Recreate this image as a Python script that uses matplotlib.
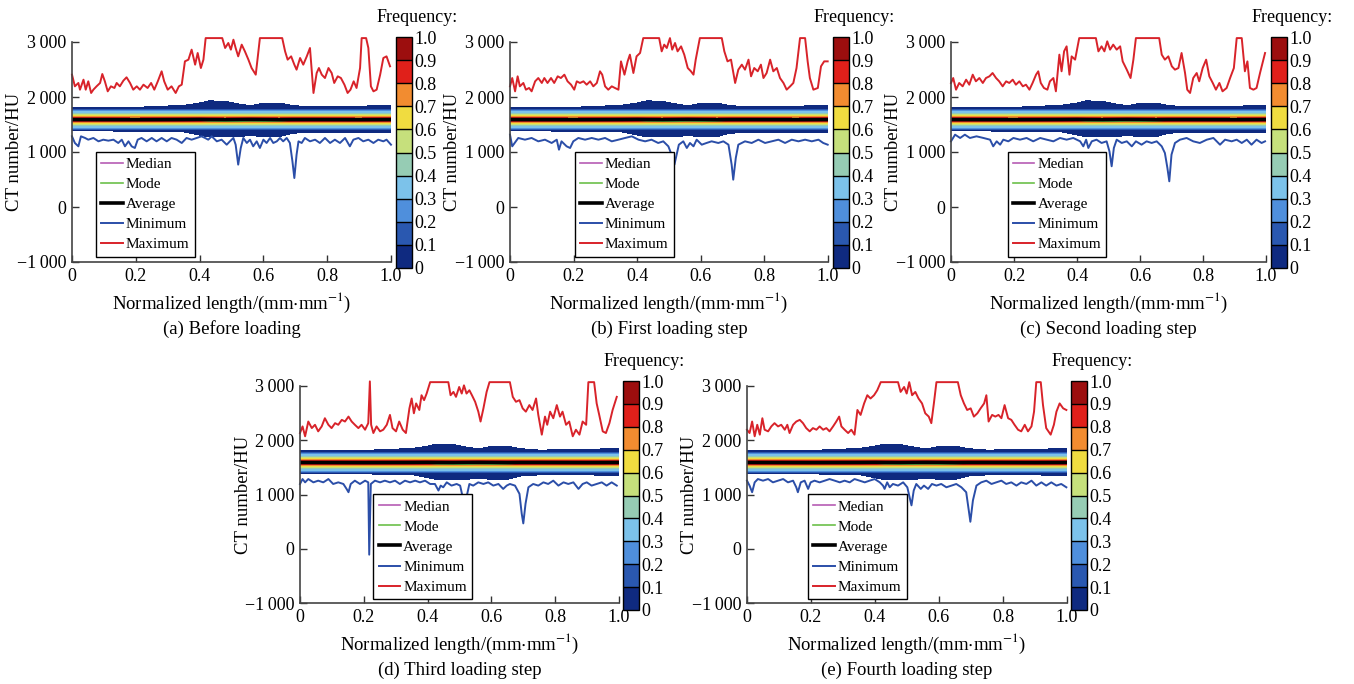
import matplotlib.pyplot as plt
from matplotlib.colors import ListedColormap, BoundaryNorm
import numpy as np

plt.rcParams['font.family'] = 'Liberation Serif'
plt.rcParams['mathtext.fontset'] = 'stix'

# ---------------- data ----------------
# max / min CT number along the normalized length, (x, HU) pairs
max_a = [(0.000, 2406), (0.009, 2194), (0.020, 2255), (0.025, 2133), (0.036, 2315), (0.043, 2133), (0.051, 2285),
         (0.060, 2073), (0.067, 2133), (0.077, 2194), (0.088, 2255), (0.095, 2418), (0.103, 2285), (0.112, 2103),
         (0.122, 2194), (0.133, 2164), (0.140, 2255), (0.150, 2194), (0.161, 2297), (0.171, 2358), (0.182, 2255),
         (0.192, 2133), (0.203, 2194), (0.213, 2133), (0.224, 2224), (0.237, 2164), (0.248, 2255), (0.258, 2133),
         (0.269, 2285), (0.281, 2467), (0.289, 2285), (0.300, 2133), (0.312, 2194), (0.325, 2073), (0.335, 2194),
         (0.344, 2224), (0.354, 2648), (0.365, 2679), (0.375, 2861), (0.386, 2588), (0.394, 2800), (0.404, 2527),
         (0.412, 2679), (0.419, 3071), (0.471, 3071), (0.480, 2891), (0.490, 2982), (0.498, 2861), (0.506, 3042),
         (0.513, 2891), (0.521, 2739), (0.532, 2952), (0.542, 2830), (0.553, 2679), (0.563, 2527), (0.576, 2406),
         (0.582, 2709), (0.589, 3071), (0.659, 3071), (0.668, 2830), (0.676, 2679), (0.687, 2739), (0.697, 2588),
         (0.704, 2497), (0.715, 2709), (0.725, 2588), (0.736, 2739), (0.746, 2891), (0.757, 2073), (0.767, 2436),
         (0.774, 2527), (0.783, 2406), (0.793, 2345), (0.804, 2527), (0.814, 2436), (0.822, 2255), (0.833, 2376),
         (0.843, 2345), (0.854, 2224), (0.864, 2073), (0.873, 2133), (0.883, 2285), (0.892, 2164), (0.903, 2527),
         (0.908, 3071), (0.922, 3071), (0.929, 2891), (0.937, 2194), (0.945, 2103), (0.955, 2133), (0.966, 2406),
         (0.976, 2709), (0.986, 2739), (0.997, 2558)]
min_a = [(0.000, 1285), (0.009, 1164), (0.020, 1103), (0.028, 1285), (0.041, 1255), (0.051, 1224), (0.067, 1255),
         (0.083, 1194), (0.098, 1224), (0.114, 1206), (0.130, 1224), (0.145, 1164), (0.156, 1224), (0.166, 1103),
         (0.177, 1194), (0.187, 1103), (0.197, 1073), (0.206, 1224), (0.218, 1255), (0.234, 1194), (0.250, 1255),
         (0.265, 1194), (0.281, 1255), (0.297, 1194), (0.312, 1255), (0.328, 1224), (0.344, 1164), (0.359, 1255),
         (0.375, 1224), (0.391, 1255), (0.406, 1285), (0.417, 1255), (0.427, 1224), (0.438, 1285), (0.454, 1194),
         (0.469, 1224), (0.485, 1133), (0.495, 1194), (0.506, 1255), (0.513, 1133), (0.521, 770), (0.529, 1073),
         (0.537, 1255), (0.548, 1164), (0.558, 1224), (0.568, 1103), (0.579, 1194), (0.589, 1073), (0.600, 1224),
         (0.610, 1164), (0.621, 1255), (0.631, 1164), (0.642, 1194), (0.652, 1255), (0.662, 1194), (0.673, 1255),
         (0.683, 1164), (0.691, 830), (0.697, 527), (0.704, 952), (0.710, 1194), (0.720, 1164), (0.730, 1255),
         (0.746, 1194), (0.762, 1224), (0.777, 1164), (0.793, 1255), (0.809, 1164), (0.824, 1224), (0.840, 1164),
         (0.856, 1255), (0.871, 1103), (0.882, 1224), (0.898, 1255), (0.913, 1194), (0.929, 1224), (0.945, 1164),
         (0.960, 1224), (0.976, 1194), (0.986, 1224), (1.000, 1133)]

max_b = [(0.000, 2194), (0.007, 2345), (0.016, 2103), (0.024, 2376), (0.031, 2194), (0.042, 2255), (0.050, 2133),
         (0.060, 2164), (0.068, 2103), (0.079, 2285), (0.089, 2345), (0.100, 2255), (0.108, 2345), (0.118, 2255),
         (0.129, 2345), (0.139, 2255), (0.150, 2376), (0.160, 2345), (0.171, 2406), (0.181, 2285), (0.192, 2224),
         (0.202, 2133), (0.210, 2285), (0.220, 2255), (0.231, 2285), (0.241, 2224), (0.252, 2285), (0.262, 2194),
         (0.273, 2255), (0.283, 2467), (0.290, 2406), (0.299, 2194), (0.309, 2133), (0.320, 2194), (0.330, 2164),
         (0.341, 2133), (0.349, 2648), (0.360, 2406), (0.370, 2648), (0.377, 2770), (0.388, 2436), (0.398, 2739),
         (0.409, 2800), (0.419, 3071), (0.469, 3071), (0.477, 2830), (0.485, 2952), (0.493, 2891), (0.503, 3071),
         (0.510, 2861), (0.519, 2982), (0.527, 2830), (0.538, 2921), (0.548, 2770), (0.559, 2527), (0.569, 2467),
         (0.577, 2406), (0.584, 2679), (0.597, 3071), (0.666, 3071), (0.674, 2830), (0.684, 2648), (0.695, 2679),
         (0.708, 2255), (0.718, 2497), (0.729, 2588), (0.739, 2497), (0.750, 2679), (0.758, 2376), (0.768, 2527),
         (0.779, 2467), (0.789, 2588), (0.797, 2345), (0.807, 2436), (0.818, 2679), (0.828, 2467), (0.839, 2527),
         (0.849, 2345), (0.860, 2255), (0.870, 2133), (0.881, 2194), (0.891, 2255), (0.901, 2527), (0.912, 3071),
         (0.928, 3071), (0.936, 2648), (0.943, 2345), (0.954, 2133), (0.968, 2164), (0.978, 2558), (0.988, 2648),
         (0.999, 2648)]
min_b = [(0.000, 1315), (0.007, 1103), (0.026, 1255), (0.047, 1224), (0.068, 1255), (0.089, 1194), (0.110, 1224),
         (0.131, 1164), (0.147, 1224), (0.154, 1042), (0.162, 1194), (0.178, 1103), (0.189, 1073), (0.199, 1194),
         (0.215, 1255), (0.236, 1224), (0.257, 1255), (0.278, 1224), (0.299, 1255), (0.320, 1194), (0.341, 1224),
         (0.362, 1255), (0.383, 1285), (0.404, 1224), (0.425, 1194), (0.445, 1224), (0.466, 1164), (0.482, 1194),
         (0.498, 1103), (0.508, 952), (0.517, 770), (0.524, 952), (0.531, 1133), (0.545, 1194), (0.556, 1073),
         (0.566, 1164), (0.577, 1103), (0.587, 1224), (0.603, 1133), (0.618, 1164), (0.634, 1194), (0.655, 1164),
         (0.671, 1194), (0.687, 1133), (0.697, 770), (0.702, 497), (0.710, 891), (0.718, 1133), (0.739, 1194),
         (0.760, 1164), (0.781, 1224), (0.802, 1164), (0.823, 1194), (0.844, 1224), (0.865, 1164), (0.886, 1224),
         (0.907, 1194), (0.928, 1224), (0.949, 1194), (0.970, 1224), (0.985, 1164), (0.999, 1133)]

max_c = [(0.000, 2255), (0.007, 2345), (0.016, 2133), (0.026, 2255), (0.037, 2194), (0.048, 2315), (0.058, 2224),
         (0.069, 2406), (0.079, 2285), (0.090, 2345), (0.101, 2255), (0.111, 2345), (0.122, 2376), (0.132, 2436),
         (0.143, 2345), (0.153, 2285), (0.164, 2194), (0.175, 2285), (0.185, 2255), (0.196, 2315), (0.206, 2224),
         (0.217, 2285), (0.228, 2194), (0.238, 2224), (0.249, 2133), (0.259, 2255), (0.270, 2406), (0.277, 2467),
         (0.285, 2255), (0.295, 2164), (0.306, 2133), (0.314, 2285), (0.325, 2345), (0.333, 2103), (0.344, 2770),
         (0.351, 2467), (0.359, 2830), (0.367, 2921), (0.376, 2406), (0.383, 2739), (0.394, 2679), (0.407, 3071),
         (0.460, 3071), (0.468, 2830), (0.478, 2921), (0.487, 2830), (0.496, 3012), (0.505, 2861), (0.515, 2952),
         (0.526, 2861), (0.537, 2921), (0.545, 2648), (0.558, 2497), (0.570, 2345), (0.579, 2679), (0.587, 3071),
         (0.661, 3071), (0.669, 2770), (0.679, 2679), (0.690, 2739), (0.701, 2558), (0.711, 2497), (0.722, 2527),
         (0.732, 2800), (0.743, 2436), (0.750, 2133), (0.759, 2073), (0.769, 2345), (0.780, 2436), (0.788, 2285),
         (0.799, 2527), (0.810, 2679), (0.820, 2376), (0.831, 2255), (0.841, 2133), (0.852, 2255), (0.862, 2103),
         (0.875, 2164), (0.886, 2345), (0.898, 2527), (0.907, 3071), (0.923, 3071), (0.933, 2467), (0.941, 2648),
         (0.949, 2164), (0.960, 2133), (0.970, 2164), (0.981, 2436), (0.997, 2800)]
min_c = [(0.000, 1194), (0.013, 1315), (0.029, 1255), (0.044, 1315), (0.060, 1255), (0.081, 1285), (0.103, 1255),
         (0.124, 1224), (0.134, 1103), (0.145, 1194), (0.156, 1133), (0.166, 1224), (0.182, 1194), (0.198, 1255),
         (0.219, 1224), (0.240, 1255), (0.261, 1194), (0.283, 1255), (0.304, 1224), (0.325, 1194), (0.346, 1255),
         (0.367, 1224), (0.388, 1255), (0.410, 1194), (0.420, 1103), (0.429, 1224), (0.436, 1073), (0.447, 1194),
         (0.462, 1224), (0.478, 1164), (0.494, 1194), (0.503, 1012), (0.510, 740), (0.517, 1073), (0.526, 1224),
         (0.542, 1164), (0.558, 1194), (0.574, 1103), (0.587, 1194), (0.605, 1133), (0.621, 1194), (0.637, 1164),
         (0.653, 1194), (0.669, 1103), (0.679, 982), (0.687, 709), (0.693, 467), (0.700, 952), (0.711, 1164),
         (0.727, 1224), (0.748, 1255), (0.769, 1194), (0.790, 1164), (0.812, 1224), (0.833, 1255), (0.854, 1133),
         (0.870, 1224), (0.891, 1194), (0.907, 1224), (0.923, 1164), (0.939, 1224), (0.954, 1133), (0.970, 1224),
         (0.986, 1164), (0.997, 1194)]

max_d = [(0.000, 2133), (0.008, 2255), (0.016, 2073), (0.026, 2345), (0.037, 2224), (0.047, 2285), (0.057, 2164),
         (0.068, 2255), (0.078, 2406), (0.089, 2285), (0.099, 2224), (0.110, 2315), (0.120, 2285), (0.131, 2376),
         (0.141, 2345), (0.152, 2436), (0.162, 2345), (0.172, 2285), (0.183, 2224), (0.193, 2285), (0.204, 2194),
         (0.214, 2315), (0.219, 3085), (0.223, 2285), (0.230, 2133), (0.240, 2255), (0.251, 2164), (0.261, 2194),
         (0.272, 2285), (0.282, 2467), (0.290, 2224), (0.301, 2164), (0.311, 2345), (0.322, 2194), (0.332, 2133),
         (0.343, 2588), (0.350, 2770), (0.357, 2497), (0.364, 2679), (0.374, 2558), (0.381, 2830), (0.389, 2739),
         (0.397, 2861), (0.408, 3071), (0.465, 3071), (0.472, 2830), (0.481, 2891), (0.489, 2800), (0.499, 2982),
         (0.507, 2861), (0.514, 3012), (0.522, 2861), (0.531, 2921), (0.539, 2830), (0.549, 2709), (0.559, 2527),
         (0.566, 2345), (0.575, 2588), (0.585, 2891), (0.594, 3071), (0.658, 3071), (0.667, 2800), (0.677, 2709),
         (0.688, 2739), (0.698, 2588), (0.708, 2527), (0.719, 2648), (0.729, 2558), (0.740, 2770), (0.747, 2467),
         (0.758, 2103), (0.768, 2436), (0.775, 2285), (0.784, 2527), (0.794, 2406), (0.805, 2648), (0.815, 2436),
         (0.823, 2527), (0.834, 2285), (0.844, 2345), (0.855, 2073), (0.865, 2194), (0.876, 2103), (0.886, 2345),
         (0.897, 2285), (0.904, 3071), (0.922, 3071), (0.930, 2679), (0.938, 2467), (0.949, 2164), (0.959, 2133),
         (0.970, 2315), (0.980, 2558), (0.993, 2800)]
min_d = [(0.000, 1194), (0.008, 1285), (0.016, 1224), (0.026, 1285), (0.042, 1224), (0.057, 1255), (0.073, 1224),
         (0.089, 1285), (0.104, 1194), (0.120, 1224), (0.136, 1194), (0.146, 1103), (0.152, 1042), (0.159, 1194),
         (0.172, 1255), (0.188, 1194), (0.204, 1255), (0.214, 1224), (0.217, -109), (0.222, 1194), (0.235, 1255),
         (0.251, 1224), (0.266, 1255), (0.282, 1224), (0.298, 1255), (0.313, 1194), (0.329, 1255), (0.345, 1224),
         (0.361, 1255), (0.376, 1224), (0.392, 1255), (0.408, 1194), (0.423, 1194), (0.434, 1073), (0.441, 1164),
         (0.449, 1133), (0.460, 1224), (0.475, 1164), (0.491, 1194), (0.502, 1164), (0.510, 952), (0.517, 709),
         (0.522, 952), (0.531, 1194), (0.543, 1164), (0.559, 1224), (0.575, 1194), (0.590, 1224), (0.606, 1164),
         (0.622, 1194), (0.637, 1103), (0.648, 1164), (0.658, 1194), (0.674, 1164), (0.688, 1012), (0.695, 649),
         (0.700, 467), (0.707, 830), (0.716, 1133), (0.731, 1194), (0.747, 1164), (0.763, 1224), (0.778, 1194),
         (0.794, 1255), (0.810, 1164), (0.826, 1224), (0.841, 1194), (0.857, 1224), (0.873, 1103), (0.886, 1194),
         (0.899, 1224), (0.914, 1164), (0.930, 1194), (0.946, 1224), (0.961, 1164), (0.977, 1224), (0.993, 1164)]

max_e = [(0.000, 2194), (0.008, 2133), (0.016, 2345), (0.024, 2073), (0.032, 2285), (0.040, 2103), (0.048, 2406),
         (0.055, 2194), (0.066, 2164), (0.076, 2255), (0.086, 2315), (0.097, 2255), (0.107, 2285), (0.118, 2194),
         (0.126, 2285), (0.133, 2133), (0.144, 2285), (0.154, 2345), (0.165, 2376), (0.175, 2315), (0.185, 2224),
         (0.196, 2164), (0.206, 2224), (0.217, 2194), (0.227, 2255), (0.238, 2194), (0.248, 2224), (0.258, 2164),
         (0.269, 2255), (0.279, 2345), (0.288, 2436), (0.295, 2255), (0.305, 2194), (0.316, 2133), (0.326, 2194),
         (0.336, 2103), (0.345, 2558), (0.355, 2467), (0.366, 2679), (0.376, 2830), (0.386, 2770), (0.397, 2830),
         (0.407, 2921), (0.418, 3071), (0.472, 3071), (0.480, 2891), (0.491, 2982), (0.499, 2861), (0.507, 3071),
         (0.516, 2830), (0.526, 2891), (0.536, 2770), (0.547, 2679), (0.557, 2497), (0.568, 2436), (0.576, 2315),
         (0.584, 2679), (0.592, 3071), (0.659, 3071), (0.668, 2830), (0.678, 2679), (0.688, 2558), (0.699, 2588),
         (0.709, 2436), (0.720, 2497), (0.730, 2588), (0.741, 2679), (0.748, 2830), (0.755, 2345), (0.766, 2467),
         (0.776, 2436), (0.786, 2467), (0.795, 2406), (0.805, 2648), (0.816, 2406), (0.826, 2376), (0.836, 2285),
         (0.847, 2194), (0.857, 2164), (0.868, 2285), (0.878, 2164), (0.889, 2255), (0.897, 2527), (0.904, 3071),
         (0.918, 3071), (0.925, 2648), (0.935, 2224), (0.949, 2103), (0.959, 2285), (0.967, 2527), (0.977, 2679),
         (0.988, 2588), (0.998, 2558)]
min_e = [(0.000, 1255), (0.008, 1164), (0.016, 1042), (0.024, 1224), (0.034, 1285), (0.050, 1255), (0.066, 1285),
         (0.081, 1224), (0.097, 1255), (0.113, 1285), (0.128, 1224), (0.144, 1255), (0.154, 1133), (0.159, 1042),
         (0.168, 1224), (0.180, 1255), (0.191, 1103), (0.199, 1224), (0.211, 1255), (0.227, 1224), (0.243, 1255),
         (0.258, 1285), (0.274, 1255), (0.290, 1224), (0.305, 1255), (0.321, 1224), (0.336, 1285), (0.352, 1255),
         (0.368, 1224), (0.383, 1255), (0.399, 1285), (0.415, 1224), (0.425, 1164), (0.430, 1103), (0.438, 1224),
         (0.446, 1133), (0.456, 1194), (0.472, 1164), (0.488, 1224), (0.501, 1133), (0.508, 952), (0.514, 800),
         (0.521, 1073), (0.529, 1194), (0.543, 1103), (0.553, 1164), (0.566, 1103), (0.578, 1194), (0.592, 1164),
         (0.607, 1194), (0.623, 1133), (0.639, 1164), (0.654, 1194), (0.670, 1133), (0.685, 1042), (0.693, 709),
         (0.698, 497), (0.706, 891), (0.717, 1164), (0.732, 1224), (0.748, 1255), (0.764, 1194), (0.779, 1224),
         (0.795, 1255), (0.810, 1194), (0.826, 1224), (0.842, 1164), (0.857, 1224), (0.873, 1194), (0.889, 1255),
         (0.904, 1164), (0.920, 1224), (0.935, 1164), (0.951, 1224), (0.967, 1164), (0.982, 1194), (0.998, 1133)]

# frequency band (same shape in all steps): outer edges and centre, HU
band_x = [0, 0.2, 0.35, 0.40, 0.43, 0.48, 0.52, 0.56, 0.60, 0.65, 0.69, 0.75, 0.9, 1.0]
band_top = [1805, 1812, 1848, 1890, 1930, 1920, 1875, 1840, 1885, 1890, 1845, 1818, 1832, 1848]
band_bot = [1385, 1380, 1368, 1310, 1275, 1275, 1280, 1300, 1280, 1280, 1340, 1362, 1362, 1350]
band_avg = [1590, 1588, 1590, 1592, 1590, 1588, 1590, 1592, 1590, 1588, 1590, 1590, 1588, 1590]
band_med = [1588, 1586, 1588, 1590, 1585, 1583, 1585, 1588, 1585, 1585, 1588, 1588, 1586, 1588]
band_mode = [1595, 1592, 1590, 1580, 1565, 1560, 1558, 1565, 1560, 1565, 1585, 1592, 1590, 1595]
# distance from centre (HU) at which the frequency drops to 0.9, 0.8, ... 0.1
prof_lvl = [0.9, 0.8, 0.7, 0.6, 0.5, 0.4, 0.3, 0.2, 0.1]
prof_off = [12, 30, 50, 70, 92, 115, 145, 168, 188]

freq_colors = ['#0f2a80', '#2a58b0', '#4f8fdc', '#7cc2ea', '#96ccb4',
               '#c6e07c', '#f0dc40', '#f28c30', '#e0201a', '#9c0e0e']
freq_levels = [0, 0.1, 0.2, 0.3, 0.4, 0.5, 0.6, 0.7, 0.8, 0.9, 1.0]

panels = [
    # caption, max, min, axes box (px), colorbar box (px), legend x
    ('(a) Before loading', max_a, min_a, (72, 42, 391, 262), (396, 37, 412, 268), 0.075),
    ('(b) First loading step', max_b, min_b, (510, 42, 828, 262), (833, 37, 849, 268), 0.204),
    ('(c) Second loading step', max_c, min_c, (951, 42, 1266, 262), (1271, 37, 1287, 268), 0.18),
    ('(d) Third loading step', max_d, min_d, (300, 386, 619, 603), (623, 381, 639, 610), 0.23),
    ('(e) Fourth loading step', max_e, min_e, (747, 386, 1067, 603), (1071, 381, 1087, 610), 0.19),
]

W, H = 1354, 684
fig = plt.figure(figsize=(W / 100, H / 100), dpi=100)


def box(l, t, r, b):
    return [l / W, 1 - b / H, (r - l) / W, (b - t) / H]


cmap = ListedColormap(freq_colors)

# curvilinear grid of the band: rows = x, cols = positions across the band
mid = np.array(band_avg, dtype=float)
cols = [np.array(band_bot)] + [mid - o for o in prof_off[::-1]] + [mid] + \
       [mid + o for o in prof_off] + [np.array(band_top)]
Yg = np.column_stack(cols)
Xg = np.repeat(np.array(band_x)[:, None], Yg.shape[1], axis=1)
zrow = [0] + prof_lvl[::-1] + [1.0] + prof_lvl + [0]
Zg = np.tile(zrow, (len(band_x), 1))

for cap, mx, mn, abox, cbox, legx in panels:
    norm = BoundaryNorm(freq_levels, cmap.N)
    ax = fig.add_axes(box(*abox))
    cs = ax.contourf(Xg, Yg, Zg, levels=freq_levels, cmap=cmap, norm=norm)
    ax.plot(band_x, band_med, color='#b65cb4', lw=1.2, label='Median')
    ax.plot(band_x, band_mode, color='#6cc04a', lw=1.2, label='Mode')
    ax.plot(band_x, band_avg, color='black', lw=2.6, label='Average')
    ax.plot(*zip(*mn), color='#2b4ea8', lw=1.4, label='Minimum', clip_on=False)
    ax.plot(*zip(*mx), color='#d8232a', lw=1.4, label='Maximum', clip_on=False)

    ax.set_xlim(0, 1)
    ax.set_ylim(-1000, 3000)
    ax.set_xticks([0, 0.2, 0.4, 0.6, 0.8, 1.0], ['0', '0.2', '0.4', '0.6', '0.8', '1.0'])
    ax.set_yticks([-1000, 0, 1000, 2000, 3000],
                  ['\u22121\u2009000', '0', '1\u2009000', '2\u2009000', '3\u2009000'])
    ax.tick_params(direction='in', length=5, width=1, labelsize=13, pad=4, colors='#333333',
                   labelcolor='black')
    for s in ('top', 'right'):
        ax.spines[s].set_visible(False)
    for s in ('left', 'bottom'):
        ax.spines[s].set_color('#444444')
        ax.spines[s].set_linewidth(1.2)

    leg = ax.legend(loc='upper left', bbox_to_anchor=(legx, 0.5), fancybox=False,
                    edgecolor='black', framealpha=1, fontsize=11, handlelength=1.4,
                    handletextpad=0.2, labelspacing=0.42, borderpad=0.35, borderaxespad=0)
    leg.get_frame().set_linewidth(1.0)

    cax = fig.add_axes(box(*cbox))
    cb = fig.colorbar(cs, cax=cax, drawedges=True)
    cb.set_ticks(freq_levels)
    cb.set_ticklabels(['0'] + ['%.1f' % v for v in freq_levels[1:]])
    cb.ax.tick_params(length=0, labelsize=13, pad=2)
    cb.outline.set_linewidth(1.0)
    cb.outline.set_edgecolor('black')
    cb.dividers.set_color('black')
    cb.dividers.set_linewidth(1.0)

    l, t, r, b = abox
    cl, ct, cr, cbm = cbox
    fig.text((cl + cr) / 2 / W + 13 / W, 1 - (ct - 20) / H, 'Frequency:', ha='center', va='center', fontsize=13)
    fig.text((l - 57) / W, 1 - (t + b) / 2 / H, 'CT number/HU', rotation=90, ha='center', va='center',
             fontsize=13.5)
    fig.text((l + r) / 2 / W, 1 - (b + 41) / H, 'Normalized length/(mm$\\cdot$mm$^{-1}$)',
             ha='center', va='center', fontsize=13.5)
    fig.text((l + r) / 2 / W, 1 - (b + 67) / H, cap, ha='center', va='center', fontsize=13.5)

fig.savefig('out.png', dpi=100)
